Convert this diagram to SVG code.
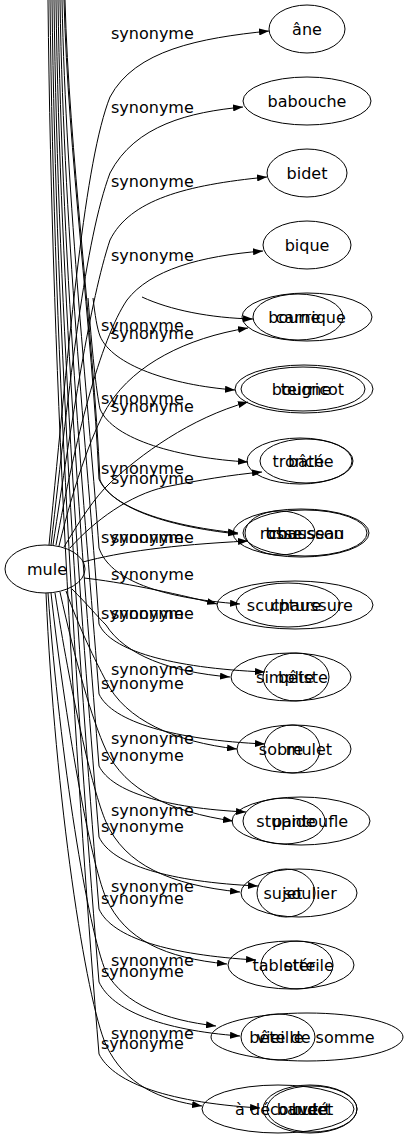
<svg xmlns="http://www.w3.org/2000/svg" width="409" height="1139" viewBox="0 0 409 1139">
<style>
ellipse{fill:none;stroke:#000;stroke-width:1}
text{font-family:"DejaVu Sans",sans-serif;font-size:16px;fill:#000}
.t{text-anchor:middle}
.e path{fill:none;stroke:#000;stroke-width:1;marker-end:url(#ah)}
</style>
<defs>
<marker id="ah" viewBox="0 0 10 7" refX="10" refY="3.5" markerWidth="10" markerHeight="7" markerUnits="userSpaceOnUse" orient="auto"><path d="M0,0L10,3.5L0,7z" fill="#000"/></marker>
</defs>
<rect width="409" height="1139" fill="#fff"/>
<g id="edges" class="e">
<path d="M49,545C70,330 85,160 110,97C135,50 200,38 269,31"/>
<path d="M51,545C70,380 85,240 110,173C135,125 190,112 243,107"/>
<path d="M53,545C72,420 90,300 110,240C130,200 185,185 267,177"/>
<path d="M56,545C75,440 100,340 127,300C150,270 200,256 263,251"/>
<path d="M59,546C75,480 95,425 110,403C135,365 185,338 248,328"/>
<path d="M64,547C80,520 95,497 110,483C140,455 190,418 248,402"/>
<path d="M70,548C95,520 130,495 165,487C200,480 230,475 262,472"/>
<path d="M83,562C120,552 170,545 248,541"/>
<path d="M84,578C120,582 170,592 217,604"/>
<path d="M72,589C88,605 96,615 106,625C125,655 170,672 230,677"/>
<path d="M66,591C80,630 95,660 106,681C125,720 175,742 237,749"/>
<path d="M60,592C75,660 92,720 106,750C125,790 170,812 233,821"/>
<path d="M55,593C70,690 92,790 106,822C125,865 170,885 240,892"/>
<path d="M51,593C65,720 90,860 106,898C125,940 165,958 227,964"/>
<path d="M48,593C60,760 88,930 106,972C125,1005 165,1020 216,1026"/>
<path d="M46,593C55,800 86,1000 106,1045C125,1085 160,1100 202,1106"/>
<path d="M142,297C170,310 210,318 253,319"/>
<path d="M93,298C95,315 97,328 100,336C112,365 170,385 235,390"/>
<path d="M88,298C92,350 96,390 100,409C113,440 180,458 248,462"/>
<path d="M64,0C68,150 92,330 99,479C110,505 160,525 238,533"/>
<path d="M65,0C69,150 93,330 100,480C111,506 162,526 238,534"/>
<path d="M62,0C66,200 90,420 99,548C110,580 160,598 240,604"/>
<path d="M60,0C64,250 90,480 99,624C110,650 170,668 265,672"/>
<path d="M58,0C62,280 88,550 99,694C112,722 175,740 265,744"/>
<path d="M56,0C60,300 86,600 99,766C112,792 165,808 246,812"/>
<path d="M54,0C58,330 84,650 99,837C112,865 170,882 258,886"/>
<path d="M52,0C56,350 82,700 99,909C112,938 170,955 256,960"/>
<path d="M50,0C54,380 80,750 99,982C112,1010 160,1030 240,1036"/>
<path d="M48,0C52,400 78,800 99,1054C112,1080 160,1102 260,1108"/>
</g>
<g id="edge-labels">
<text x="111" y="39">synonyme</text>
<text x="111" y="113">synonyme</text>
<text x="111" y="187">synonyme</text>
<text x="111" y="261">synonyme</text>
<text x="111" y="339">synonyme</text>
<text x="111" y="412">synonyme</text>
<text x="111" y="484">synonyme</text>
<text x="111" y="543">synonyme</text>
<text x="111" y="580">synonyme</text>
<text x="111" y="619">synonyme</text>
<text x="111" y="675">synonyme</text>
<text x="111" y="744">synonyme</text>
<text x="111" y="816">synonyme</text>
<text x="111" y="892">synonyme</text>
<text x="111" y="966">synonyme</text>
<text x="111" y="1039">synonyme</text>
<text x="101" y="331">synonyme</text>
<text x="101" y="404">synonyme</text>
<text x="101" y="474">synonyme</text>
<text x="101" y="543">synonyme</text>
<text x="101" y="619">synonyme</text>
<text x="101" y="689">synonyme</text>
<text x="101" y="761">synonyme</text>
<text x="101" y="832">synonyme</text>
<text x="101" y="904">synonyme</text>
<text x="101" y="977">synonyme</text>
<text x="101" y="1049">synonyme</text>
</g>
<g id="n-mule"><ellipse cx="45" cy="569" rx="40" ry="24"/><text class="t" x="47" y="575">mule</text></g>
<g id="n-ane"><ellipse cx="307" cy="29" rx="38" ry="24"/><text class="t" x="307" y="35">âne</text></g>
<g id="n-babouche"><ellipse cx="307" cy="101" rx="64" ry="24"/><text class="t" x="307" y="107">babouche</text></g>
<g id="n-bidet"><ellipse cx="307" cy="173" rx="40" ry="24"/><text class="t" x="307" y="179">bidet</text></g>
<g id="n-bique"><ellipse cx="307" cy="245" rx="44" ry="24"/><text class="t" x="307" y="251">bique</text></g>
<g id="n-bourrique"><ellipse cx="307" cy="317" rx="65" ry="24"/><text class="t" x="307" y="323">bourrique</text></g>
<g id="n-carne"><ellipse cx="298" cy="317" rx="45" ry="23"/><text class="t" x="298" y="323">carne</text></g>
<g id="n-bourricot"><ellipse cx="304" cy="389" rx="69" ry="24"/><text class="t" x="308" y="395">bourricot</text></g>
<g id="n-teigne"><ellipse cx="303" cy="389" rx="62" ry="22"/><text class="t" x="306" y="395">teigne</text></g>
<g id="n-tronche"><ellipse cx="300" cy="461" rx="53" ry="23"/><text class="t" x="303" y="467">tronche</text></g>
<g id="n-bate"><ellipse cx="306" cy="461" rx="46" ry="22"/><text class="t" x="306" y="467">bâté</text></g>
<g id="n-trousseau"><ellipse cx="301" cy="533" rx="68" ry="24"/><text class="t" x="305" y="539">trousseau</text></g>
<g id="n-chausson"><ellipse cx="305" cy="533" rx="62" ry="23"/><text class="t" x="306" y="539">chausson</text></g>
<g id="n-rosse"><ellipse cx="280" cy="533" rx="35" ry="22"/><text class="t" x="281" y="539">rosse</text></g>
<g id="n-chaussure"><ellipse cx="295" cy="605" rx="78" ry="24"/><text class="t" x="312" y="611">chaussure</text></g>
<g id="n-sculpture"><ellipse cx="288" cy="605" rx="52" ry="22"/><text class="t" x="284" y="611">sculpture</text></g>
<g id="n-simpliste"><ellipse cx="291" cy="677" rx="60" ry="24"/><text class="t" x="292" y="683">simpliste</text></g>
<g id="n-bete"><ellipse cx="296" cy="677" rx="33" ry="24"/><text class="t" x="296" y="683">bête</text></g>
<g id="n-mulet"><ellipse cx="294" cy="749" rx="57" ry="24"/><text class="t" x="309" y="755">mulet</text></g>
<g id="n-sobre"><ellipse cx="292" cy="749" rx="28" ry="24"/><text class="t" x="281" y="755">sobre</text></g>
<g id="n-pantoufle"><ellipse cx="301" cy="821" rx="69" ry="24"/><text class="t" x="310" y="827">pantoufle</text></g>
<g id="n-stupide"><ellipse cx="284" cy="821" rx="41" ry="23"/><text class="t" x="286" y="827">stupide</text></g>
<g id="n-soulier"><ellipse cx="299" cy="893" rx="58" ry="24"/><text class="t" x="310" y="899">soulier</text></g>
<g id="n-sujet"><ellipse cx="286" cy="893" rx="29" ry="24"/><text class="t" x="283" y="899">sujet</text></g>
<g id="n-tablette"><ellipse cx="291" cy="965" rx="63" ry="24"/><text class="t" x="284" y="971">tablette</text></g>
<g id="n-sterile"><ellipse cx="297" cy="965" rx="36" ry="24"/><text class="t" x="309" y="971">stérile</text></g>
<g id="n-bete-de-somme"><ellipse cx="307" cy="1037" rx="96" ry="24"/><text class="t" x="312" y="1043">bête de somme</text></g>
<g id="n-vieille"><ellipse cx="278" cy="1037" rx="37" ry="23"/><text class="t" x="280" y="1043">vieille</text></g>
<g id="n-a-decouvert"><ellipse cx="278" cy="1109" rx="76" ry="24"/><text class="t" x="283" y="1115">à découvert</text></g>
<g id="n-bute"><ellipse cx="310" cy="1109" rx="47" ry="24"/><text class="t" x="310" y="1115">buté</text></g>
<g id="n-baudet"><ellipse cx="312" cy="1109" rx="45" ry="23"/><text class="t" x="305" y="1115">baudet</text></g>
</svg>
